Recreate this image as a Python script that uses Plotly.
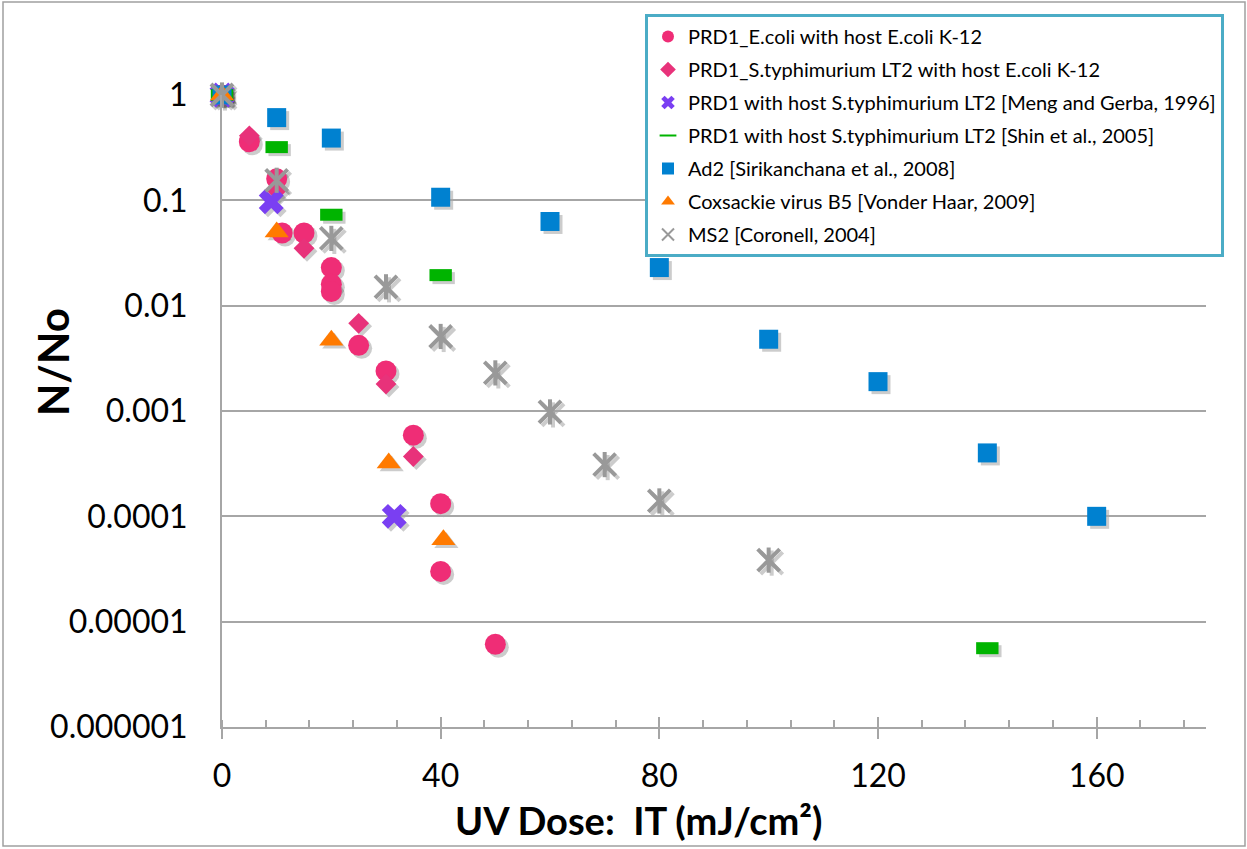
import plotly.graph_objects as go

# ---- data: UV dose (mJ/cm2) vs surviving fraction N/No ----
ecoli_dose = [0, 5, 10, 11, 15, 20, 20, 20, 25, 30, 35, 40, 40, 50]
ecoli_ratio = [1, 0.36, 0.16, 0.049, 0.049, 0.023, 0.016, 0.0136, 0.0042,
               0.0024, 0.00059, 0.000132, 0.00003, 0.0000061]

styph_dose = [0, 5, 10, 15, 25, 30, 35]
styph_ratio = [1, 0.41, 0.125, 0.035, 0.0068, 0.0018, 0.00037]

meng_dose = [0, 9, 31.5]
meng_ratio = [1, 0.097, 0.0001]

shin_dose = [0, 10, 20, 40, 140]
shin_ratio = [1, 0.32, 0.073, 0.0195, 0.0000056]

ad2_dose = [0, 10, 20, 40, 60, 80, 100, 120, 140, 160]
ad2_ratio = [1, 0.61, 0.39, 0.107, 0.063, 0.023, 0.0048, 0.0019, 0.0004, 0.0001]

cox_dose = [0, 10, 20, 30.5, 40.5]
cox_ratio = [1, 0.05, 0.0047, 0.00032, 0.00006]

ms2_dose = [0, 10, 20, 30, 40, 50, 60, 70, 80, 100]
ms2_ratio = [1, 0.155, 0.0435, 0.0151, 0.0051, 0.0023, 0.00098, 0.00031,
             0.00014, 0.0000384]

x_ticks = [0, 40, 80, 120, 160]
y_ticks = [1, 0.1, 0.01, 0.001, 0.0001, 0.00001, 0.000001]
y_tick_text = ["1", "0.1", "0.01", "0.001", "0.0001", "0.00001", "0.000001"]

W, H = 1247, 849
PLOT_L, PLOT_R, PLOT_T, PLOT_B = 222, 1206, 95, 727
SHADOW_OFF = 3
FONT = "Lato"
GRID = "#A6A6A6"
STAR_GREY = "#999999"

series = [
    dict(name="PRD1_E.coli with host E.coli K-12", x=ecoli_dose, y=ecoli_ratio,
         symbol="circle", size=21, color="#EF2D76", line=0),
    dict(name="PRD1_S.typhimurium LT2 with host E.coli K-12", x=styph_dose, y=styph_ratio,
         symbol="diamond", size=16, color="#E8327A", line=0),
    dict(name="PRD1 with host S.typhimurium LT2 [Meng and Gerba, 1996]", x=meng_dose, y=meng_ratio,
         symbol="x", size=22, color="#7A3FF2", line=0),
    dict(name="PRD1 with host S.typhimurium LT2 [Shin et al., 2005]", x=shin_dose, y=shin_ratio,
         symbol="line-ew", size=16, color="#00B400", line=12),
    dict(name="Ad2 [Sirikanchana et al., 2008]", x=ad2_dose, y=ad2_ratio,
         symbol="square", size=19, color="#0081D0", line=0),
    dict(name="Coxsackie virus B5 [Vonder Haar, 2009]", x=cox_dose, y=cox_ratio,
         symbol="triangle-up", size=21, color="#FF7A00", line=0),
    dict(name="MS2 [Coronell, 2004]", x=ms2_dose, y=ms2_ratio,
         symbol="x-thin", size=22, color=STAR_GREY, line=4),
]

fig = go.Figure()

def marker(s, color):
    m = dict(symbol=s["symbol"], size=s["size"], color=color)
    if s["line"]:
        m["line"] = dict(width=s["line"], color=color)
    else:
        m["line"] = dict(width=0)
    return m

def star_stroke(color):
    return dict(symbol="line-ns", size=18, color=color, line=dict(width=4, color=color))

# soft drop shadows on a slightly offset copy of the axes
shadow = "rgba(0,0,0,0.2)"
for s in series:
    fig.add_trace(go.Scatter(x=s["x"], y=s["y"], mode="markers", xaxis="x", yaxis="y",
                             marker=marker(s, shadow), showlegend=False,
                             hoverinfo="skip", cliponaxis=False))
fig.add_trace(go.Scatter(x=ms2_dose, y=ms2_ratio, mode="markers", xaxis="x", yaxis="y",
                         marker=star_stroke(shadow), showlegend=False,
                         hoverinfo="skip", cliponaxis=False))

# main markers
for i, s in enumerate(series):
    fig.add_trace(go.Scatter(x=s["x"], y=s["y"], mode="markers", xaxis="x2", yaxis="y2",
                             name=s["name"], legendgroup=f"g{i}",
                             marker=marker(s, s["color"]), cliponaxis=False))
# vertical stroke that completes the MS2 star marker
fig.add_trace(go.Scatter(x=ms2_dose, y=ms2_ratio, mode="markers", xaxis="x3", yaxis="y2",
                         legendgroup="g6", showlegend=False,
                         marker=star_stroke(STAR_GREY), cliponaxis=False))

def px_x(p):
    return p / W

def px_y(p):
    return 1 - p / H

fig.update_layout(
    width=W, height=H,
    margin=dict(l=0, r=0, t=0, b=0, autoexpand=False),
    paper_bgcolor="white", plot_bgcolor="rgba(0,0,0,0)",
    font=dict(family=FONT, color="black"),
    xaxis=dict(domain=[px_x(PLOT_L + SHADOW_OFF), px_x(PLOT_R + SHADOW_OFF)],
               range=[0, 180], visible=False, anchor="y"),
    yaxis=dict(domain=[px_y(PLOT_B + SHADOW_OFF), px_y(PLOT_T + SHADOW_OFF)],
               type="log", range=[-6, 0], visible=False, anchor="x"),
    xaxis2=dict(domain=[px_x(PLOT_L), px_x(PLOT_R)], anchor="y2", range=[0, 180],
                showline=True, linecolor=GRID, linewidth=2,
                showgrid=False, zeroline=False,
                tickmode="array", tickvals=x_ticks,
                ticks="outside", ticklen=10, tickwidth=1.5, tickcolor=GRID,
                ticklabelstandoff=10,
                tickfont=dict(family=FONT, size=32, color="black"),
                minor=dict(ticks="inside", dtick=8, tick0=0, ticklen=7,
                           tickwidth=1.5, tickcolor=GRID, showgrid=False)),
    xaxis3=dict(overlaying="x2", anchor="y2", range=[0, 180],
                showline=False, showgrid=False, zeroline=False,
                tickmode="array", tickvals=x_ticks, showticklabels=False,
                ticks="inside", ticklen=10, tickwidth=1.5, tickcolor=GRID),
    yaxis2=dict(domain=[px_y(PLOT_B), px_y(PLOT_T)], anchor="x2", type="log", range=[-6, 0],
                showline=True, linecolor=GRID, linewidth=2,
                showgrid=True, gridcolor=GRID, gridwidth=2, zeroline=False,
                tickmode="array", tickvals=y_ticks, ticktext=y_tick_text,
                ticks="", ticklabelstandoff=26,
                tickfont=dict(family=FONT, size=32, color="black")),
    legend=dict(x=px_x(645), y=px_y(14), xanchor="left", yanchor="top",
                bgcolor="white", bordercolor="#4BACC6", borderwidth=3,
                font=dict(family=FONT, size=20, color="black"),
                traceorder="grouped", tracegroupgap=4, itemsizing="constant",
                entrywidth=560, entrywidthmode="pixels"),
    shapes=[dict(type="rect", xref="paper", yref="paper",
                 x0=px_x(3), x1=px_x(1245), y0=px_y(846), y1=px_y(2),
                 line=dict(color="#A0A0A0", width=1.5), layer="below")],
    annotations=[
        dict(text="<b>UV Dose:  IT (mJ/cm²)</b>", xref="paper", yref="paper",
             x=px_x(638), y=px_y(820), xanchor="center", yanchor="middle",
             showarrow=False, font=dict(family=FONT, size=38, color="black")),
        dict(text="<b>N/No</b>", xref="paper", yref="paper",
             x=px_x(53), y=px_y(362), xanchor="center", yanchor="middle",
             textangle=-90, showarrow=False,
             font=dict(family=FONT, size=42, color="black")),
    ],
)

fig.write_html("out.html")
